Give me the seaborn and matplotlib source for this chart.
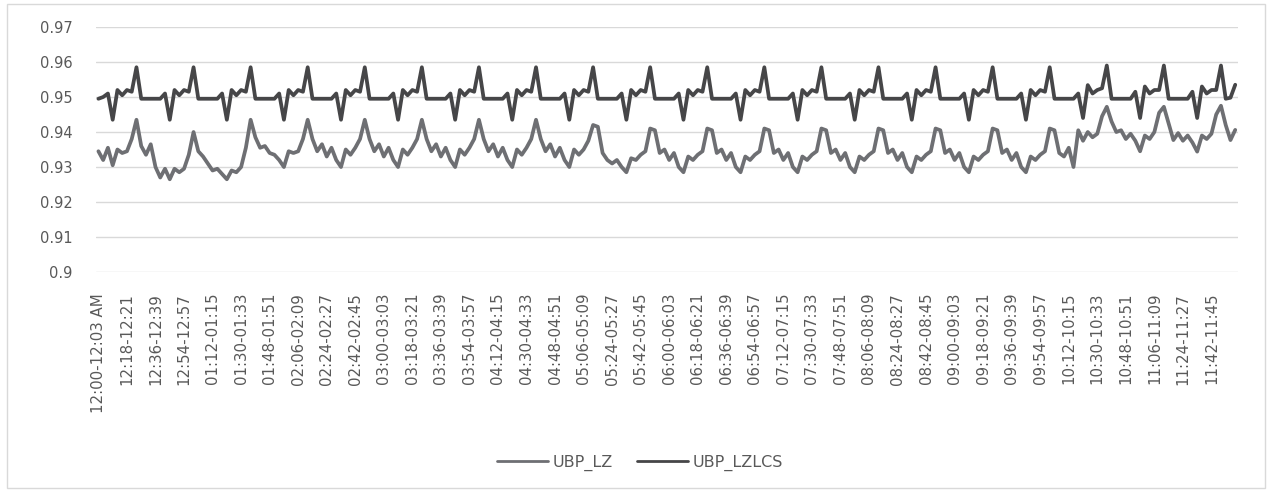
import numpy as np
import pandas as pd
import matplotlib
matplotlib.use('Agg')
import matplotlib.pyplot as plt
import seaborn as sns
from matplotlib.patches import Rectangle

sns.set_theme(style='white')
plt.rcParams['font.family'] = ['DejaVu Sans']

# 240 three-minute slots (12:00 AM .. 11:57), one row = 12 slots (36 min)
ubp_lzlcs = [
    0.9495, 0.9500, 0.9510, 0.9435, 0.9520, 0.9505, 0.9520, 0.9515, 0.9585, 0.9495, 0.9495, 0.9495,
    0.9495, 0.9495, 0.9510, 0.9435, 0.9520, 0.9505, 0.9520, 0.9515, 0.9585, 0.9495, 0.9495, 0.9495,
    0.9495, 0.9495, 0.9510, 0.9435, 0.9520, 0.9505, 0.9520, 0.9515, 0.9585, 0.9495, 0.9495, 0.9495,
    0.9495, 0.9495, 0.9510, 0.9435, 0.9520, 0.9505, 0.9520, 0.9515, 0.9585, 0.9495, 0.9495, 0.9495,
    0.9495, 0.9495, 0.9510, 0.9435, 0.9520, 0.9505, 0.9520, 0.9515, 0.9585, 0.9495, 0.9495, 0.9495,
    0.9495, 0.9495, 0.9510, 0.9435, 0.9520, 0.9505, 0.9520, 0.9515, 0.9585, 0.9495, 0.9495, 0.9495,
    0.9495, 0.9495, 0.9510, 0.9435, 0.9520, 0.9505, 0.9520, 0.9515, 0.9585, 0.9495, 0.9495, 0.9495,
    0.9495, 0.9495, 0.9510, 0.9435, 0.9520, 0.9505, 0.9520, 0.9515, 0.9585, 0.9495, 0.9495, 0.9495,
    0.9495, 0.9495, 0.9510, 0.9435, 0.9520, 0.9505, 0.9520, 0.9515, 0.9585, 0.9495, 0.9495, 0.9495,
    0.9495, 0.9495, 0.9510, 0.9435, 0.9520, 0.9505, 0.9520, 0.9515, 0.9585, 0.9495, 0.9495, 0.9495,
    0.9495, 0.9495, 0.9510, 0.9435, 0.9520, 0.9505, 0.9520, 0.9515, 0.9585, 0.9495, 0.9495, 0.9495,
    0.9495, 0.9495, 0.9510, 0.9435, 0.9520, 0.9505, 0.9520, 0.9515, 0.9585, 0.9495, 0.9495, 0.9495,
    0.9495, 0.9495, 0.9510, 0.9435, 0.9520, 0.9505, 0.9520, 0.9515, 0.9585, 0.9495, 0.9495, 0.9495,
    0.9495, 0.9495, 0.9510, 0.9435, 0.9520, 0.9505, 0.9520, 0.9515, 0.9585, 0.9495, 0.9495, 0.9495,
    0.9495, 0.9495, 0.9510, 0.9435, 0.9520, 0.9505, 0.9520, 0.9515, 0.9585, 0.9495, 0.9495, 0.9495,
    0.9495, 0.9495, 0.9510, 0.9435, 0.9520, 0.9505, 0.9520, 0.9515, 0.9585, 0.9495, 0.9495, 0.9495,
    0.9495, 0.9495, 0.9510, 0.9435, 0.9520, 0.9505, 0.9520, 0.9515, 0.9585, 0.9495, 0.9495, 0.9495,
    0.9495, 0.9495, 0.9510, 0.9440, 0.9534, 0.9510, 0.9520, 0.9525, 0.9590, 0.9495, 0.9495, 0.9495,
    0.9495, 0.9495, 0.9515, 0.9440, 0.9530, 0.9510, 0.9520, 0.9520, 0.9590, 0.9495, 0.9495, 0.9495,
    0.9495, 0.9495, 0.9515, 0.9440, 0.9530, 0.9510, 0.9520, 0.9520, 0.9590, 0.9495, 0.9498, 0.9535,
]

ubp_lz = [
    0.9345, 0.9320, 0.9355, 0.9305, 0.9350, 0.9340, 0.9345, 0.9380, 0.9435, 0.9360, 0.9335, 0.9365,
    0.9300, 0.9270, 0.9295, 0.9265, 0.9295, 0.9285, 0.9295, 0.9335, 0.9400, 0.9345, 0.9330, 0.9310,
    0.9290, 0.9295, 0.9280, 0.9265, 0.9290, 0.9285, 0.9300, 0.9355, 0.9435, 0.9385, 0.9355, 0.9360,
    0.9340, 0.9335, 0.9320, 0.9300, 0.9345, 0.9340, 0.9345, 0.9380, 0.9435, 0.9380, 0.9345, 0.9365,
    0.9330, 0.9355, 0.9320, 0.9300, 0.9350, 0.9335, 0.9355, 0.9380, 0.9435, 0.9380, 0.9345, 0.9365,
    0.9330, 0.9355, 0.9320, 0.9300, 0.9350, 0.9335, 0.9355, 0.9380, 0.9435, 0.9380, 0.9345, 0.9365,
    0.9330, 0.9355, 0.9320, 0.9300, 0.9350, 0.9335, 0.9355, 0.9380, 0.9435, 0.9380, 0.9345, 0.9365,
    0.9330, 0.9355, 0.9320, 0.9300, 0.9350, 0.9335, 0.9355, 0.9380, 0.9435, 0.9380, 0.9345, 0.9365,
    0.9330, 0.9355, 0.9320, 0.9300, 0.9350, 0.9335, 0.9350, 0.9375, 0.9420, 0.9415, 0.9340, 0.9320,
    0.9310, 0.9320, 0.9300, 0.9285, 0.9325, 0.9320, 0.9335, 0.9345, 0.9410, 0.9405, 0.9340, 0.9350,
    0.9320, 0.9340, 0.9300, 0.9285, 0.9330, 0.9320, 0.9335, 0.9345, 0.9410, 0.9405, 0.9340, 0.9350,
    0.9320, 0.9340, 0.9300, 0.9285, 0.9330, 0.9320, 0.9335, 0.9345, 0.9410, 0.9405, 0.9340, 0.9350,
    0.9320, 0.9340, 0.9300, 0.9285, 0.9330, 0.9320, 0.9335, 0.9345, 0.9410, 0.9405, 0.9340, 0.9350,
    0.9320, 0.9340, 0.9300, 0.9285, 0.9330, 0.9320, 0.9335, 0.9345, 0.9410, 0.9405, 0.9340, 0.9350,
    0.9320, 0.9340, 0.9300, 0.9285, 0.9330, 0.9320, 0.9335, 0.9345, 0.9410, 0.9405, 0.9340, 0.9350,
    0.9320, 0.9340, 0.9300, 0.9285, 0.9330, 0.9320, 0.9335, 0.9345, 0.9410, 0.9405, 0.9340, 0.9350,
    0.9320, 0.9340, 0.9300, 0.9285, 0.9330, 0.9320, 0.9335, 0.9345, 0.9410, 0.9405, 0.9340, 0.9330,
    0.9355, 0.9300, 0.9405, 0.9375, 0.9400, 0.9385, 0.9395, 0.9445, 0.9472, 0.9430, 0.9400, 0.9405,
    0.9380, 0.9395, 0.9375, 0.9345, 0.9390, 0.9380, 0.9400, 0.9455, 0.9472, 0.9425, 0.9377, 0.9397,
    0.9375, 0.9390, 0.9370, 0.9344, 0.9390, 0.9380, 0.9395, 0.9450, 0.9475, 0.9420, 0.9377, 0.9406,
]

# every 6th slot gets a label
slot_labels = [
    '12:00-12:03 AM', '12:18-12:21', '12:36-12:39', '12:54-12:57', '01:12-01:15',
    '01:30-01:33', '01:48-01:51', '02:06-02:09', '02:24-02:27', '02:42-02:45',
    '03:00-03:03', '03:18-03:21', '03:36-03:39', '03:54-03:57', '04:12-04:15',
    '04:30-04:33', '04:48-04:51', '05:06-05:09', '05:24-05:27', '05:42-05:45',
    '06:00-06:03', '06:18-06:21', '06:36-06:39', '06:54-06:57', '07:12-07:15',
    '07:30-07:33', '07:48-07:51', '08:06-08:09', '08:24-08:27', '08:42-08:45',
    '09:00-09:03', '09:18-09:21', '09:36-09:39', '09:54-09:57', '10:12-10:15',
    '10:30-10:33', '10:48-10:51', '11:06-11:09', '11:24-11:27', '11:42-11:45',
]

series_names = ['UBP_LZ', 'UBP_LZLCS']
colors = {'UBP_LZ': '#6e6f73', 'UBP_LZLCS': '#464648'}
text_color = '#595959'

n = len(ubp_lz)
df = pd.DataFrame({
    'slot': np.concatenate([np.arange(n), np.arange(len(ubp_lzlcs))]),
    'value': ubp_lz + ubp_lzlcs,
    'series': ['UBP_LZ'] * n + ['UBP_LZLCS'] * len(ubp_lzlcs),
})

fig = plt.figure(figsize=(12.67, 4.91), dpi=100)
ax = fig.add_axes([0.0758, 0.446, 0.901, 0.499])

sns.lineplot(data=df, x='slot', y='value', hue='series', hue_order=series_names,
             palette=colors, linewidth=2.7, ax=ax)

ax.set_xlim(-0.5, n - 0.5)
ax.set_ylim(0.9, 0.97)
yt = [0.9, 0.91, 0.92, 0.93, 0.94, 0.95, 0.96, 0.97]
ax.set_yticks(yt)
ax.set_yticklabels(['0.9', '0.91', '0.92', '0.93', '0.94', '0.95', '0.96', '0.97'])
ax.set_xticks(np.arange(0, n, 6))
ax.set_xticklabels(slot_labels, rotation=90)
ax.tick_params(axis='y', length=0, pad=17, labelsize=10.5, labelcolor=text_color)
ax.tick_params(axis='x', length=0, pad=15, labelsize=10.8, labelcolor=text_color)
ax.set_xlabel('')
ax.set_ylabel('')
ax.grid(axis='y', color='#d9d9d9', linewidth=1)
ax.grid(axis='x', visible=False)
ax.set_axisbelow(True)
for s in ax.spines.values():
    s.set_visible(False)

handles, labels = ax.get_legend_handles_labels()
ax.get_legend().remove()
for h in handles:
    h.set_linewidth(2.0)
leg = fig.legend(handles, labels, loc='center', bbox_to_anchor=(0.505, 0.057), ncol=2,
                 frameon=False, fontsize=11.5, handlelength=3.2, handletextpad=0.3,
                 columnspacing=1.5)
for t in leg.get_texts():
    t.set_color(text_color)

# chart area border
fig.patches.append(Rectangle((0.0055, 0.006), 0.993, 0.986, transform=fig.transFigure,
                             fill=False, edgecolor='#d9d9d9', linewidth=1))

fig.savefig('out.png', dpi=100)
